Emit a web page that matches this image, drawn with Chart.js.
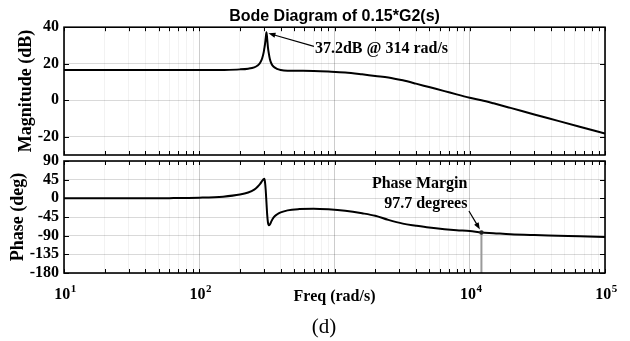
<!DOCTYPE html>
<html><head><meta charset="utf-8">
<script src="https://cdn.jsdelivr.net/npm/chart.js@4.4.1/dist/chart.umd.min.js"></script>
<style>
html,body{margin:0;padding:0;background:#fff;}
#wrap{position:relative;width:630px;height:341px;background:#fff;}
canvas{position:absolute;left:0;top:0;}
</style></head><body>
<div id="wrap"><canvas id="ph" width="630" height="341"></canvas><canvas id="mag" width="630" height="341"></canvas></div>
<script>
// ---- data ----
const freq = [10, 30, 60, 100, 150, 200, 230, 255, 270, 282, 292, 300, 303, 306, 310, 314, 318, 322, 327, 333, 342, 355, 375, 400, 450, 550, 700, 900, 1200, 1600, 2000, 2500, 3200, 4000, 5000, 6500, 8000, 10000, 12200, 15000, 20000, 30000, 45000, 65000, 100000];
const magDb = [16.5, 16.5, 16.5, 16.5, 16.6, 16.9, 17.3, 18.0, 19.0, 20.5, 23.0, 26.5, 28.5, 30.5, 34.0, 37.2, 33.5, 29.0, 25.5, 22.5, 20.0, 18.3, 17.2, 16.6, 16.2, 16.1, 16.0, 15.7, 15.2, 14.2, 13.3, 12.5, 10.9, 9.1, 7.2, 5.0, 3.2, 1.4, 0.0, -1.7, -4.2, -7.8, -11.3, -14.5, -18.3];
const phaseDeg = [0, 0.2, 0.5, 1.5, 4, 9, 14, 21, 28, 35, 42, 46.5, 47, 40, 20, -10, -40, -58, -65, -63, -55, -46, -39, -34, -29, -26, -25, -26.5, -30, -36, -42, -52, -61, -66, -70.5, -74.5, -77, -79, -82.3, -84, -86.5, -88.5, -90, -91.5, -93];
const magTicks = [-20, 0, 20, 40];
const phaseTicks = [-180, -135, -90, -45, 0, 45, 90];
const decadeTicks = [10, 100, 10000, 100000];   // 10^3 label is hidden under the axis title
const decadeExps = ['1', '2', '4', '5'];
const peak = {freq: 314, db: 37.2, text: '37.2dB @ 314 rad/s'};
const pm = {freq: 12200, phase: -82.3, lines: ['Phase Margin', '97.7 degrees']};
const titleText = 'Bode Diagram of 0.15*G2(s)';
const figLabel = '(d)';

// x tick positions (decades with their minor steps)
const xTickVals = [];
for (let e = 1; e <= 4; e++) for (let m = 1; m <= 9; m++) xTickVals.push(m * Math.pow(10, e));
xTickVals.push(100000);

const SERIF = '"Liberation Serif", "Times New Roman", serif';
const SANS = '"Liberation Sans", Arial, sans-serif';
const isDecade = v => Math.abs(Math.log10(v) - Math.round(Math.log10(v))) < 1e-9;

const gridX = ctx => (ctx.tick && isDecade(ctx.tick.value)) ? 'rgba(0,0,0,0.2)' : 'rgba(0,0,0,0.05)';

const framePlugin = {
  id: 'frame',
  afterDraw(chart) {
    const {ctx, chartArea: a, scales} = chart;
    ctx.save();
    ctx.strokeStyle = '#000';
    ctx.lineWidth = 1;
    ctx.beginPath();
    xTickVals.forEach(v => {
      const px = Math.round(scales.x.getPixelForValue(v)) + 0.5;
      ctx.moveTo(px, a.top); ctx.lineTo(px, a.top + 4);
      ctx.moveTo(px, a.bottom); ctx.lineTo(px, a.bottom - 4);
    });
    scales.y.ticks.forEach(t => {
      const py = Math.round(scales.y.getPixelForValue(t.value)) + 0.5;
      ctx.moveTo(a.left, py); ctx.lineTo(a.left + 5, py);
      ctx.moveTo(a.right, py); ctx.lineTo(a.right - 5, py);
    });
    ctx.stroke();
    ctx.lineWidth = 1.6;
    ctx.strokeRect(a.left, a.top, a.right - a.left, a.bottom - a.top);
    ctx.restore();
  }
};

// decade labels "10^n" drawn at the log axis positions
const xLabelPlugin = {
  id: 'xLabels',
  afterDraw(chart) {
    const {ctx, chartArea: a, scales: {x}} = chart;
    ctx.save();
    ctx.fillStyle = '#000';
    ctx.textBaseline = 'alphabetic';
    decadeTicks.forEach((v, i) => {
      const px = x.getPixelForValue(v);
      ctx.font = 'bold 16px ' + SERIF;
      const wb = ctx.measureText('10').width;
      ctx.font = 'bold 11px ' + SERIF;
      const we = ctx.measureText(decadeExps[i]).width;
      const x0 = px - (wb + we) / 2 + 1;
      ctx.font = 'bold 16px ' + SERIF;
      ctx.textAlign = 'left';
      ctx.fillText('10', x0, a.bottom + 26);
      ctx.font = 'bold 11px ' + SERIF;
      ctx.fillText(decadeExps[i], x0 + wb + 0.5, a.bottom + 19);
    });
    ctx.restore();
  }
};

function arrow(ctx, x1, y1, x2, y2) {
  const ang = Math.atan2(y2 - y1, x2 - x1), L = 7, W = 2.6;
  ctx.beginPath(); ctx.moveTo(x1, y1); ctx.lineTo(x2 - L * 0.6 * Math.cos(ang), y2 - L * 0.6 * Math.sin(ang)); ctx.stroke();
  ctx.beginPath();
  ctx.moveTo(x2, y2);
  ctx.lineTo(x2 - L * Math.cos(ang) + W * Math.sin(ang), y2 - L * Math.sin(ang) - W * Math.cos(ang));
  ctx.lineTo(x2 - L * Math.cos(ang) - W * Math.sin(ang), y2 - L * Math.sin(ang) + W * Math.cos(ang));
  ctx.closePath(); ctx.fill();
}

const magAnnot = {
  id: 'magAnnot',
  afterDatasetsDraw(chart) {
    const {ctx, scales: {x, y}} = chart;
    const px = x.getPixelForValue(peak.freq), py = y.getPixelForValue(peak.db);
    ctx.save();
    ctx.fillStyle = '#000'; ctx.strokeStyle = '#000'; ctx.lineWidth = 1.2;
    ctx.font = 'bold 16px ' + SERIF;
    ctx.textAlign = 'left'; ctx.textBaseline = 'alphabetic';
    const tx = px + 48.5, ty = py + 21;
    ctx.fillText(peak.text, tx, ty);
    arrow(ctx, tx - 1, ty - 7, px + 2, py + 1);
    ctx.restore();
  }
};

const phAnnot = {
  id: 'phAnnot',
  afterDatasetsDraw(chart) {
    const {ctx, chartArea: a, scales: {x, y}} = chart;
    const px = x.getPixelForValue(pm.freq), py = y.getPixelForValue(pm.phase);
    ctx.save();
    ctx.strokeStyle = '#9a9a9a'; ctx.lineWidth = 2;
    ctx.beginPath(); ctx.moveTo(px, py); ctx.lineTo(px, a.bottom); ctx.stroke();
    ctx.fillStyle = '#222';
    ctx.beginPath(); ctx.arc(px, py, 2.2, 0, Math.PI * 2); ctx.fill();
    ctx.fillStyle = '#000'; ctx.strokeStyle = '#000'; ctx.lineWidth = 1.2;
    ctx.font = 'bold 16px ' + SERIF;
    ctx.textAlign = 'right'; ctx.textBaseline = 'alphabetic';
    ctx.fillText(pm.lines[0], px - 14, py - 44.5);
    ctx.fillText(pm.lines[1], px - 14, py - 24.5);
    arrow(ctx, px - 12.5, py - 21.5, px - 1.5, py - 3);
    ctx.font = '21px ' + SERIF;
    ctx.textAlign = 'center';
    ctx.fillText(figLabel, 324, 333);
    ctx.restore();
  }
};

const lineDs = vals => ({
  data: freq.map((f, i) => ({x: f, y: vals[i]})),
  borderColor: '#000', borderWidth: 2, pointRadius: 0,
  cubicInterpolationMode: 'monotone', fill: false
});

const baseX = () => ({
  type: 'logarithmic', min: 10, max: 100000,
  afterBuildTicks: s => { s.ticks = xTickVals.map(v => ({value: v})); },
  ticks: {display: false, autoSkip: false},
  grid: {drawTicks: false, color: gridX, lineWidth: 1},
  border: {display: false}
});

const yTickOpts = {color: '#000', padding: 5, autoSkip: false, font: {family: SERIF, size: 16, weight: 'bold'}};

new Chart(document.getElementById('mag'), {
  type: 'line',
  data: {datasets: [lineDs(magDb)]},
  options: {
    responsive: false, animation: false, devicePixelRatio: 1,
    layout: {padding: {left: 0, right: 25, top: 0, bottom: 186}},
    plugins: {
      legend: {display: false}, tooltip: {enabled: false},
      title: {display: true, text: titleText, fullSize: false, color: '#000',
        font: {family: SANS, size: 16, weight: 'bold'}, padding: {top: 7, bottom: 1}}
    },
    scales: {
      x: Object.assign(baseX(), {afterFit: s => { s.height = 0; }}),
      y: {
        min: -30, max: 40,
        afterBuildTicks: s => { s.ticks = magTicks.map(v => ({value: v})); },
        ticks: yTickOpts,
        grid: {drawTicks: false, color: 'rgba(0,0,0,0.15)'},
        border: {display: false},
        title: {display: true, text: 'Magnitude (dB)', color: '#000',
          font: {family: SERIF, size: 18, weight: 'bold'}, padding: {top: 16, bottom: 0}},
        afterFit: s => { s.width = 64; }
      }
    }
  },
  plugins: [framePlugin, magAnnot]
});

new Chart(document.getElementById('ph'), {
  type: 'line',
  data: {datasets: [lineDs(phaseDeg)]},
  options: {
    responsive: false, animation: false, devicePixelRatio: 1,
    layout: {padding: {left: 0, right: 25, top: 161, bottom: 0}},
    plugins: {legend: {display: false}, tooltip: {enabled: false}},
    scales: {
      x: Object.assign(baseX(), {
        title: {display: true, text: 'Freq (rad/s)', color: '#000',
          font: {family: SERIF, size: 16, weight: 'bold'}, padding: {top: 0, bottom: 35}},
        afterFit: s => { s.height = 68; }
      }),
      y: {
        min: -180, max: 90,
        afterBuildTicks: s => { s.ticks = phaseTicks.map(v => ({value: v})); },
        ticks: yTickOpts,
        grid: {drawTicks: false, color: 'rgba(0,0,0,0.15)'},
        border: {display: false},
        title: {display: true, text: 'Phase (deg)', color: '#000',
          font: {family: SERIF, size: 18, weight: 'bold'}, padding: {top: 8, bottom: 0}},
        afterFit: s => { s.width = 64; }
      }
    }
  },
  plugins: [framePlugin, xLabelPlugin, phAnnot]
});
</script>
</body></html>
